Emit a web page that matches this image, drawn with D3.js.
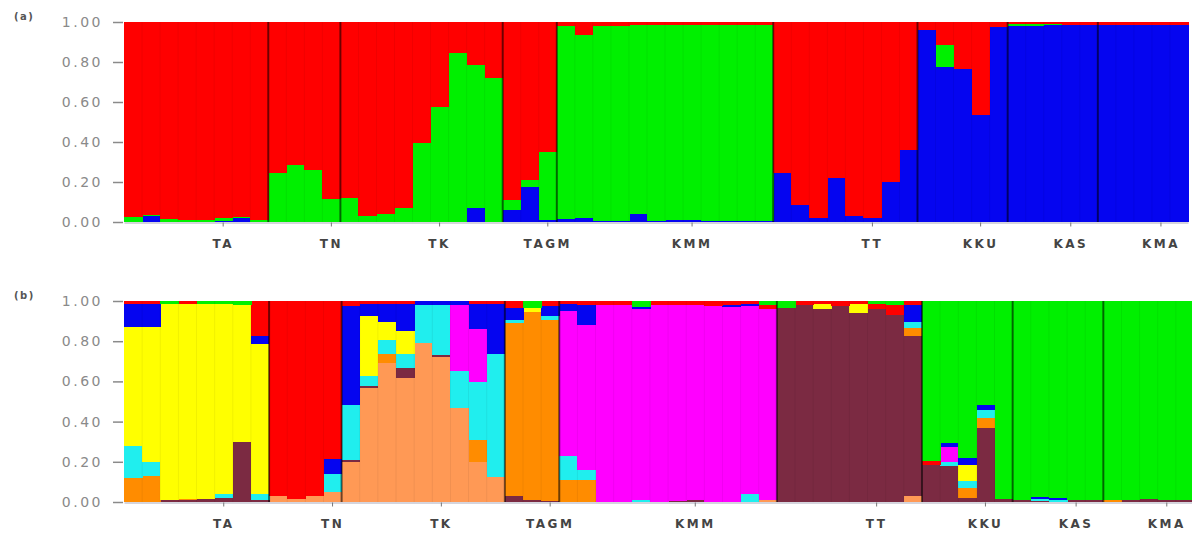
<!DOCTYPE html>
<html>
<head>
<meta charset="utf-8">
<title>STRUCTURE bar plot</title>
<script src="https://cdnjs.cloudflare.com/ajax/libs/d3/7.8.5/d3.min.js"></script>
<style>
  body { margin: 0; background: #fff; }
  .yaxis text { font-family: "DejaVu Sans", sans-serif; font-size: 14px; fill: #8a8a8a; letter-spacing: 2.5px; }
  .yaxis line { stroke: #8a8a8a; stroke-width: 1.5; }
  .xaxis text { font-family: "DejaVu Sans", sans-serif; font-size: 12px; font-weight: bold; fill: #444; letter-spacing: 2.5px; }
  .xaxis line { stroke: #777; }
  .xaxis path { stroke: #aab; }
  .plabel { font-family: "DejaVu Sans", sans-serif; font-size: 10px; font-weight: bold; fill: #555; letter-spacing: 1.5px; }
</style>
</head>
<body>
<script>
// populations and sample counts (left to right)
var popNames = ["TA", "TN", "TK", "TAGM", "KMM", "TT", "KKU", "KAS", "KMA"];
var popSizes = [8, 4, 9, 3, 12, 8, 5, 5, 5];
var yTicks = [0, 0.2, 0.4, 0.6, 0.8, 1];

// (a) K = 3, membership per individual, stacked bottom -> top
var aBlue  = [0, .03, 0, 0, 0, .005, .02, 0,          0, 0, 0, 0,           0, 0, 0, 0, 0, 0, 0, .07, 0,                   .06, .175, .01,  .015, .02, .005, .005, .04, .005, .01, .01, .005, .005, .005, .005, .245, .085, .02, .22, .03, .02, .2, .36, .96, .775, .765, .535, .975, .98, .98, .985, .985, .985, .985, .985, .985, .985, .985];
var aGreen = [.025, .005, .015, .01, .01, .015, .005, .01, .245, .285, .26, .115, .12, .03, .04, .07, .395, .575, .845, .715, .72, .05, .035, .34, .965, .915, .975, .975, .945, .98, .975, .975, .98, .98, .98, .98, 0, 0, 0, 0, 0, 0, 0, 0, 0, .11, 0, 0, 0, .01, .01, .005, 0, 0, 0, 0, 0, 0, 0];
var aRed   = [.975, .965, .985, .99, .99, .98, .975, .99, .755, .715, .74, .885, .88, .97, .96, .93, .605, .425, .155, .215, .28, .89, .79, .65, .02, .065, .02, .02, .015, .015, .015, .015, .015, .015, .015, .015, .755, .915, .98, .78, .97, .98, .8, .64, .04, .115, .235, .465, .025, .01, .01, .01, .015, .015, .015, .015, .015, .015, .015];

// (b) finer clustering, stacked bottom -> top
var bSalmon  = [0, 0, 0, 0, 0, 0, 0, 0, .03, .015, .03, .05, .2, .565, .69, .615, .79, .72, .47, .2, .125, 0, 0, 0, 0, 0, 0, 0, 0, 0, 0, 0, 0, 0, 0, .01, 0, 0, 0, 0, 0, 0, 0, .03, 0, 0, 0, 0, 0, 0, 0, 0, 0, 0, 0, 0, 0, 0, 0];
var bMaroon  = [0, 0, .01, .01, .015, .02, .30, .01, 0, 0, 0, 0, .01, .01, 0, .05, 0, .01, 0, 0, 0, .03, .01, .005, 0, 0, 0, 0, 0, 0, .005, .01, 0, 0, 0, 0, .965, .98, .96, .975, .94, .96, .93, .795, .185, .18, .02, .37, .015, .01, .005, 0, .01, .01, 0, .01, .015, .01, .01];
var bOrange  = [.12, .13, 0, .005, 0, 0, 0, 0, 0, 0, 0, 0, 0, 0, .045, 0, 0, 0, 0, .11, 0, .86, .935, .9, .11, .11, 0, 0, 0, 0, 0, 0, 0, 0, 0, 0, 0, 0, 0, 0, 0, 0, 0, .04, 0, 0, .05, .05, 0, 0, 0, 0, 0, 0, .01, 0, 0, 0, 0];
var bCyan    = [.16, .07, 0, 0, 0, .02, 0, .03, 0, 0, 0, .09, .275, .05, .07, .07, .19, .25, .18, .285, .61, .015, 0, .02, .12, .05, 0, 0, .01, 0, 0, 0, 0, 0, .04, 0, 0, 0, 0, 0, 0, 0, 0, .03, 0, .02, .035, .04, 0, 0, .01, .01, 0, 0, 0, 0, 0, 0, 0];
var bYellow  = [.59, .67, .975, .97, .97, .945, .68, .745, 0, 0, 0, 0, 0, .3, .09, .115, 0, 0, 0, 0, 0, 0, .02, 0, 0, 0, 0, 0, 0, 0, 0, 0, 0, 0, 0, 0, 0, 0, .025, 0, .045, 0, 0, 0, 0, 0, .08, 0, 0, 0, 0, 0, 0, 0, 0, 0, 0, 0, 0];
var bMagenta = [0, 0, 0, 0, 0, 0, 0, 0, 0, 0, 0, 0, 0, 0, 0, 0, 0, 0, .33, .265, 0, 0, 0, 0, .72, .72, .98, .98, .95, .98, .975, .97, .975, .97, .935, .95, 0, 0, 0, 0, 0, 0, 0, 0, 0, .075, 0, 0, 0, 0, 0, 0, 0, 0, 0, 0, 0, 0, 0];
var bBlue    = [.115, .115, 0, 0, 0, 0, 0, .04, 0, 0, 0, .075, .49, .06, .09, .135, .02, .02, .02, .125, .25, .06, 0, .05, .035, .1, 0, 0, .01, 0, 0, 0, 0, .01, .01, 0, 0, 0, 0, 0, 0, 0, 0, .085, 0, .02, .035, .025, 0, 0, .01, .01, 0, 0, 0, 0, 0, 0, 0];
var bRed     = [.015, .015, 0, .015, 0, 0, 0, .175, .97, .985, .97, .785, .025, .015, .015, .015, 0, 0, 0, .015, .015, .035, 0, .025, .015, .02, .02, .02, 0, .02, .02, .02, .025, .02, .015, .02, 0, .02, .015, .025, .015, .025, .05, .02, .02, 0, 0, 0, 0, 0, 0, 0, 0, 0, 0, 0, 0, 0, 0];
var bGreen   = [0, 0, .015, 0, .015, .015, .02, 0, 0, 0, 0, 0, 0, 0, 0, 0, 0, 0, 0, 0, 0, 0, .035, 0, 0, 0, 0, 0, .03, 0, 0, 0, 0, 0, 0, .02, .035, 0, 0, 0, 0, .015, .02, 0, .795, .705, .78, .515, .985, .99, .975, .98, .99, .99, .99, .99, .985, .99, .99];

var svg = d3.select("body").append("svg")
    .attr("width", 1192)
    .attr("height", 534);

var nInd = d3.sum(popSizes);
var starts = [0].concat(Array.from(d3.cumsum(popSizes)).slice(0, -1));
var labelIdx = starts.map(function(s, i) { return s + Math.floor(popSizes[i] / 2) + 1; });

function drawPanel(p) {
    var x = d3.scaleBand().domain(d3.range(nInd)).range([124, p.right]).paddingInner(0).paddingOuter(0);
    var y = d3.scaleLinear().domain([0, 1]).range([p.bottom, p.top]);

    var rows = d3.range(nInd).map(function(i) {
        var r = { i: i };
        p.keys.forEach(function(k, j) { r[k] = p.series[j][i]; });
        return r;
    });
    var stacked = d3.stack().keys(p.keys)(rows);

    var g = svg.append("g");
    g.selectAll("g.layer")
        .data(stacked)
        .enter().append("g")
        .attr("class", "layer")
        .attr("fill", function(d, j) { return p.colors[j]; })
        .selectAll("rect")
        .data(function(d) { return d; })
        .enter().append("rect")
        .attr("shape-rendering", "crispEdges")
        .attr("x", function(d) { return x(d.data.i); })
        .attr("width", x.bandwidth() + 0.6)
        .attr("y", function(d) { return y(d[1]); })
        .attr("height", function(d) { return Math.max(0, y(d[0]) - y(d[1])); });

    // faint outline of individuals
    g.selectAll("line.ind")
        .data(d3.range(1, nInd))
        .enter().append("line")
        .attr("x1", function(d) { return x(d); })
        .attr("x2", function(d) { return x(d); })
        .attr("y1", p.top).attr("y2", p.bottom)
        .attr("stroke", "rgba(0,0,0,0.06)");

    // population separators
    g.selectAll("line.sep")
        .data(starts.slice(1))
        .enter().append("line")
        .attr("x1", function(d) { return x(d); })
        .attr("x2", function(d) { return x(d); })
        .attr("y1", p.top).attr("y2", p.bottom)
        .attr("stroke", "rgba(0,0,0,0.55)")
        .attr("stroke-width", 2);

    svg.append("g")
        .attr("class", "yaxis")
        .attr("transform", "translate(123,0)")
        .call(d3.axisLeft(y).tickValues(yTicks).tickFormat(d3.format(".2f")).tickSize(10).tickPadding(10))
        .call(function(a) { a.select(".domain").remove(); });

    svg.append("g")
        .attr("class", "xaxis")
        .attr("transform", "translate(0," + (p.bottom + 0.5) + ")")
        .call(d3.axisBottom(x).tickValues(labelIdx)
            .tickFormat(function(d, i) { return popNames[i]; })
            .tickSize(4).tickSizeOuter(0).tickPadding(13));

    svg.append("text")
        .attr("class", "plabel")
        .attr("x", 14)
        .attr("y", p.top - 2)
        .text(p.label);
}

drawPanel({
    label: "(a)", top: 22, bottom: 222, right: 1188,
    keys: ["blue", "green", "red"],
    series: [aBlue, aGreen, aRed],
    colors: ["#0505f0", "#00f000", "#ff0000"]
});

drawPanel({
    label: "(b)", top: 301, bottom: 502, right: 1194,
    keys: ["salmon", "maroon", "orange", "cyan", "yellow", "magenta", "blue", "red", "green"],
    series: [bSalmon, bMaroon, bOrange, bCyan, bYellow, bMagenta, bBlue, bRed, bGreen],
    colors: ["#ff9955", "#7b2a42", "#ff8c00", "#20eeee", "#ffff00", "#ff00ff", "#0505f0", "#ff0000", "#00f000"]
});
</script>
</body>
</html>
